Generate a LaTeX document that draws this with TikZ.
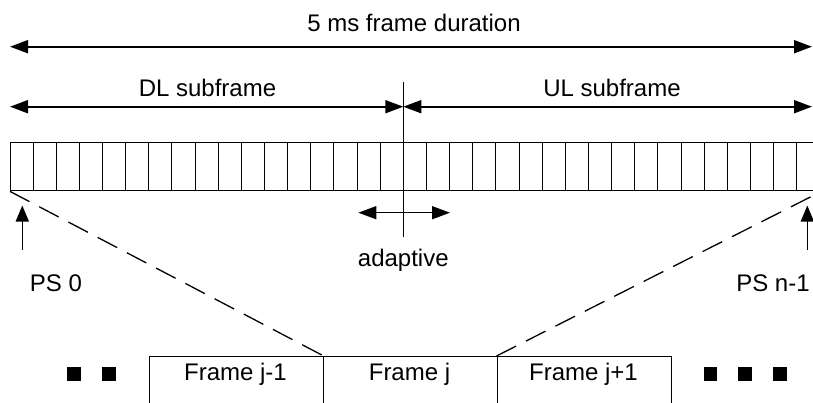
\documentclass[tikz,border=0pt]{standalone}
\usepackage{fontspec}
\setmainfont{Liberation Sans}
\usetikzlibrary{arrows.meta}
\begin{document}
\begin{tikzpicture}[x=1pt,y=-1pt,
  lbl/.style={inner sep=0pt,anchor=base,font=\fontsize{24}{28}\selectfont},
  dblarrow/.style={line width=1.8pt,{Triangle[length=18pt,width=13pt]}-{Triangle[length=18pt,width=13pt]}},
  onearrow/.style={line width=1.5pt,-{Triangle[length=16pt,width=13pt]}},
  framebox/.style={draw,line width=1.2pt,minimum width=174pt,minimum height=70pt,anchor=north west,inner sep=0pt},
  dot/.style={fill=black,minimum size=13.4pt,inner sep=0pt},
  cellline/.style={line width=1pt},
  dashline/.style={line width=1.3pt,dash pattern=on 22pt off 11pt}]
\useasboundingbox (0,0) rectangle (813,402);
\clip (0,0) rectangle (813,402);
% frame duration
\node[lbl] (t5) at (414,31.7) {5 ms frame duration};
\coordinate (fl) at (10,46.7);
\coordinate (fr) at (812,46.7);
\draw[dblarrow] (fl) -- (fr);
% subframes
\node[lbl] (tdl) at (207.5,96.7) {DL subframe};
\node[lbl] (tul) at (612,96.7) {UL subframe};
\coordinate (dll) at (10,106.7);
\coordinate (dlr) at (403.3,106.7);
\coordinate (ulr) at (812,106.7);
\draw[dblarrow] (dll) -- (dlr);
\draw[dblarrow] (dlr) -- (ulr);
% bar
\node[draw,line width=1.4pt,minimum width=810pt,minimum height=48.3pt,anchor=north west,inner sep=0pt] (bar) at (10,141.7) {};
\foreach \k in {1,...,34} \draw[cellline] (10+\k*23.14,141.7) -- ++(0,48.3);
% divider and adaptive
\coordinate (dtop) at (403.3,81.7);
\coordinate (dbot) at (403.3,236.7);
\draw[line width=1.3pt] (dtop) -- (dbot);
\coordinate (adl) at (358.3,212.7);
\coordinate (adr) at (450,212.7);
\draw[dblarrow,line width=1.4pt] (adl) -- (adr);
\node[lbl] (tad) at (403.3,266.5) {adaptive};
% PS arrows
\coordinate (ps0b) at (22.3,250);
\coordinate (ps0t) at (22.3,205.5);
\draw[onearrow] (ps0b) -- (ps0t);
\node[lbl] (tps0) at (56,291.7) {PS 0};
\coordinate (psnb) at (807.3,250);
\coordinate (psnt) at (807.3,205.5);
\draw[onearrow] (psnb) -- (psnt);
\node[lbl] (tpsn) at (773,291.7) {PS n-1};
% frames
\node[framebox] (fjm1) at (148.5,356) {};
\node[framebox] (fj) at (322.5,356) {};
\node[framebox] (fjp1) at (496.5,356) {};
\node[lbl] (tfjm1) at (235.5,380) {Frame j-1};
\node[lbl] (tfj) at (409.5,380) {Frame j};
\node[lbl] (tfjp1) at (583.5,380) {Frame j+1};
% dashed zoom lines
\draw[dashline] (bar.south west) -- (fjm1.north east);
\draw[dashline] (fjp1.north west) -- (bar.south east);
% dots
\node[dot] (d1) at (74,374) {};
\node[dot] (d2) at (109,374) {};
\node[dot] (d3) at (710.7,374) {};
\node[dot] (d4) at (745,374) {};
\node[dot] (d5) at (780,374) {};
\end{tikzpicture}
\end{document}
